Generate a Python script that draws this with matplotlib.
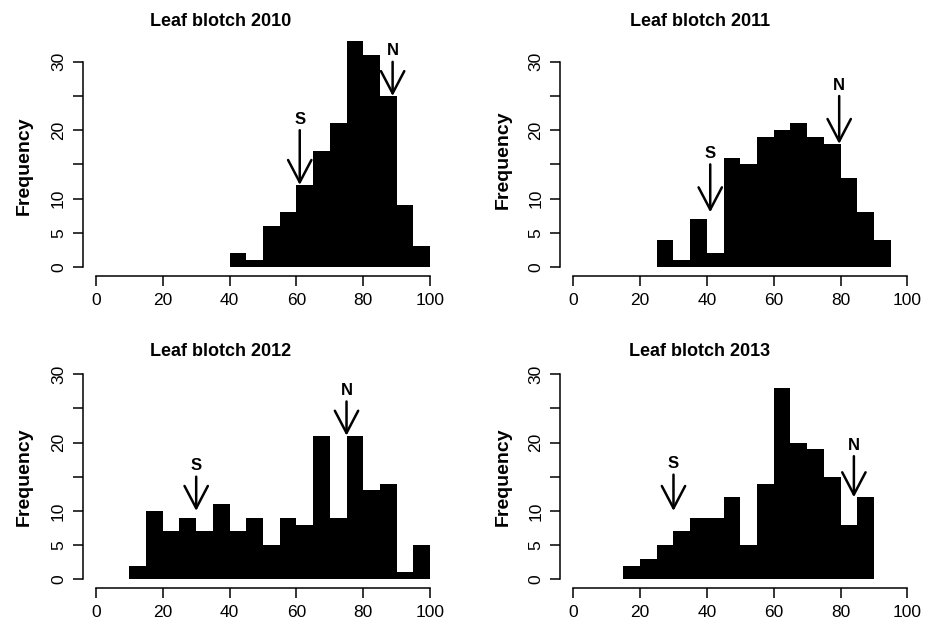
import matplotlib
matplotlib.use("Agg")
import matplotlib.pyplot as plt

plt.rcParams["font.family"] = ["Liberation Sans", "DejaVu Sans"]

# histogram counts, 5-unit bins starting at bin_start
titles = ["Leaf blotch 2010", "Leaf blotch 2011", "Leaf blotch 2012", "Leaf blotch 2013"]
bin_start = [40, 25, 10, 15]
bin_width = 5
counts_2010 = [2, 1, 6, 8, 12, 17, 21, 33, 31, 25, 9, 3]
counts_2011 = [4, 1, 7, 2, 16, 15, 19, 20, 21, 19, 18, 13, 8, 4]
counts_2012 = [2, 10, 7, 9, 7, 11, 7, 9, 5, 9, 8, 21, 9, 21, 13, 14, 1, 5]
counts_2013 = [2, 3, 5, 7, 9, 9, 12, 5, 14, 28, 20, 19, 15, 8, 12]
all_counts = [counts_2010, counts_2011, counts_2012, counts_2013]

# S / N arrows: x position, tip height, start height
s_x = [61, 41, 30, 30]
s_tip = [12, 8, 10, 10]
s_top = [20, 15, 15, 15.3]
n_x = [88.8, 79.6, 75, 84]
n_tip = [25, 18, 21, 12]
n_top = [30, 25, 26, 18]

x_ticks = [0, 20, 40, 60, 80, 100]
y_ticks = [0, 5, 10, 15, 20, 25, 30]
y_tick_labels = ["0", "5", "10", "", "20", "", "30"]  # R drops the crowded ones

W, H = 936, 626
fig = plt.figure(figsize=(W / 100, H / 100), dpi=100)

ax_w, ax_h = 360.8, 243.7
# top-left corners of the plot regions, in pixels
corners = [(82.6, 32.3), (559.9, 32.3), (82.6, 344.6), (559.9, 344.6)]
title_pos = [(221, 21), (700, 21), (221, 351), (700, 351)]
ylab_pos = [(24, 166), (503, 160), (24, 477), (503, 477)]


def arrow(ax, x, tip, top, letter):
    ax.annotate("", xy=(x, tip), xytext=(x, top),
                arrowprops=dict(arrowstyle="->,head_length=0.8,head_width=0.42",
                                mutation_scale=20, lw=1.8, color="black",
                                shrinkA=0, shrinkB=0))
    ax.text(x, top + 0.5, letter, ha="center", va="bottom", fontsize=12,
            fontweight="semibold")


for i in range(4):
    left, top = corners[i]
    ax = fig.add_axes([left / W, 1 - (top + ax_h) / H, ax_w / W, ax_h / H])
    edges = [bin_start[i] + k * bin_width for k in range(len(all_counts[i]) + 1)]
    ax.stairs(all_counts[i], edges, fill=True, color="black")

    arrow(ax, s_x[i], s_tip[i], s_top[i], "S")
    arrow(ax, n_x[i], n_tip[i], n_top[i], "N")

    ax.set_xlim(-4, 104)
    ax.set_ylim(-1.32, 34.32)
    ax.set_xticks(x_ticks)
    ax.set_yticks(y_ticks)
    ax.set_yticklabels(y_tick_labels, rotation=90, va="center")
    for s in ["top", "right"]:
        ax.spines[s].set_visible(False)
    ax.spines["left"].set_bounds(0, 30)
    ax.spines["bottom"].set_bounds(0, 100)
    for s in ["left", "bottom"]:
        ax.spines[s].set_linewidth(1.1)
    ax.tick_params(direction="out", length=7, width=1.1, labelsize=12.5, pad=5)

    tx, ty = title_pos[i]
    fig.text(tx / W, 1 - ty / H, titles[i], ha="center", va="center",
             fontsize=13, fontweight="bold")
    lx, ly = ylab_pos[i]
    fig.text(lx / W, 1 - ly / H, "Frequency", ha="center", va="center",
             rotation=90, fontsize=14, fontweight="bold")

fig.savefig("out.png", dpi=100)
